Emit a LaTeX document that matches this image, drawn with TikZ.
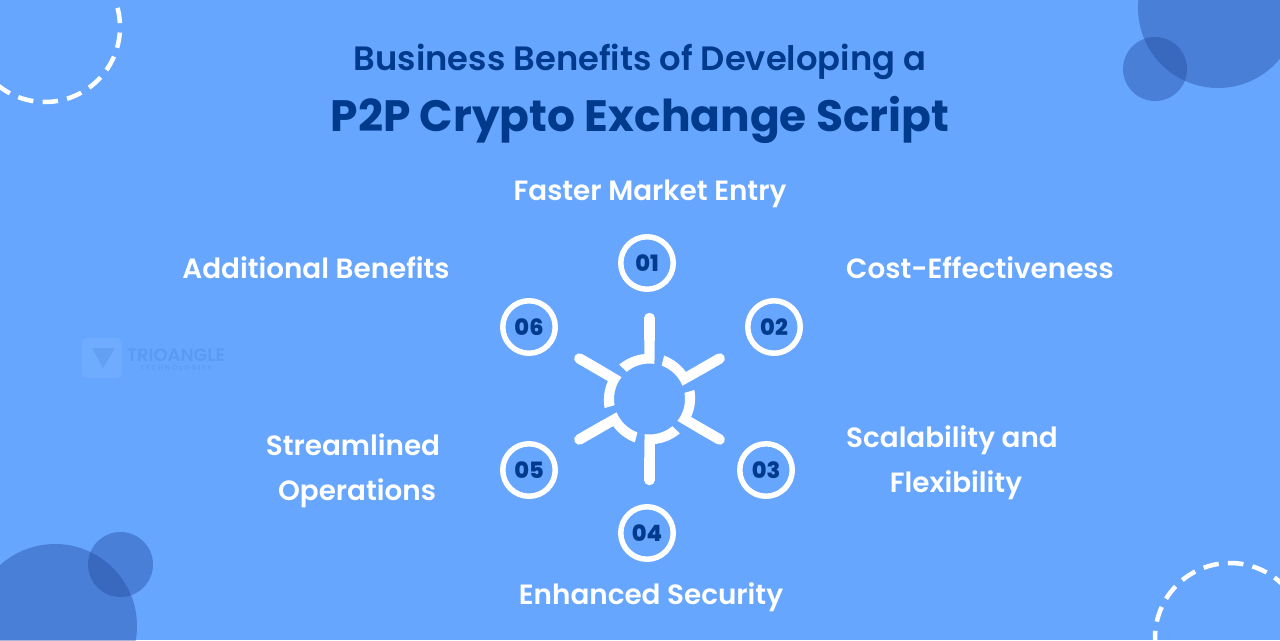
\documentclass[tikz,border=0pt]{standalone}
\usepackage{fontspec}
\usetikzlibrary{positioning}
\setmainfont{Poppins}[UprightFont=* SemiBold,BoldFont=* Bold]
\newfontfamily\numfont{Poppins}[UprightFont=* ExtraBold]
\definecolor{skyback}{HTML}{66A6FF}
\definecolor{navytext}{HTML}{003A8C}
\definecolor{bubble}{HTML}{20469D}
\tikzset{
  titletext/.style={text=navytext,inner sep=0pt,anchor=base},
  benefit/.style={text=white,inner sep=0pt,anchor=base,font=\fontsize{7.92}{9}\selectfont},
  numdot/.style={circle,draw=white,line width=0.055cm,minimum size=0.525cm,inner sep=0pt,text=navytext,font=\numfont\fontsize{6.4}{7}\selectfont},
  ringdash/.style={draw=white,line width=0.045cm,dash pattern=on 0.155cm off 0.093cm},
}
\begin{document}
\begin{tikzpicture}
    \useasboundingbox (0, 0) rectangle (12.8, 6.4);
    \fill [skyback] (0, 0) rectangle (12.8, 6.4);

    % corner shapes
    \begin{scope}
      \clip (0, 0) rectangle (12.8, 6.4);
      \fill [bubble, opacity=0.4] (12.18, 6.32) circle (0.8);
      \fill [bubble, opacity=0.4] (11.55, 5.71) circle (0.32);
      \fill [bubble, opacity=0.4] (0.55, 0.14) circle (0.82);
      \fill [bubble, opacity=0.4] (1.205, 0.755) circle (0.325);
      \draw [ringdash, dash phase=0.21cm] (0.45, 6.13) circle (0.75);
      \draw [ringdash, dash phase=0.196cm] (12.3, 0.02) circle (0.75);
    \end{scope}

    % watermark
    \fill [white, opacity=0.06, rounded corners=0.06cm] (0.82, 2.62) rectangle (1.22, 3.02);
    \fill [navytext, opacity=0.1] (0.92, 2.92) -- (1.15, 2.92) -- (1.03, 2.72) -- cycle;
    \node [text=navytext, text opacity=0.1, inner sep=0pt] (markname) at (1.76, 2.85) {\fontsize{5.1}{6}\selectfont TRIOANGLE};
    \node [text=navytext, text opacity=0.09, inner sep=0pt, below=0.03 of markname] (marksub) {\fontsize{2}{2}\selectfont T E C H N O L O G I E S};

    % title
    \node [titletext] (headone) at (6.4, 5.7) {\fontsize{9.6}{11}\selectfont Business Benefits of Developing a};
    \node [titletext] (headtwo) at (6.4, 5.09) {\fontsize{12.5}{14}\selectfont\bfseries P2P Crypto Exchange Script};

    % hub
    \foreach \turn in {0, 60, ..., 300} {
      \begin{scope}[shift={(6.495, 2.41)}, rotate=\turn]
        \draw [white, line width=0.105cm, line cap=round] (0, 0.81) -- (0, 0.6);
        \fill [white] (-0.0525, 0.6) -- (-0.0525, 0.45) arc (96:130:0.465) -- (130:0.355) arc (130:82:0.355) -- (0.0525, 0.6) -- cycle;
      \end{scope}
    }

    % numbered dots
    \node [numdot] (dotone) at (6.47, 3.77) {01};
    \node [numdot] (dottwo) at (7.74, 3.13) {02};
    \node [numdot] (dotthree) at (7.66, 1.70) {03};
    \node [numdot] (dotfour) at (6.47, 1.07) {04};
    \node [numdot] (dotfive) at (5.29, 1.70) {05};
    \node [numdot] (dotsix) at (5.29, 3.13) {06};

    % labels
    \node [benefit] (faster) at (6.5, 4.4) {Faster Market Entry};
    \node [benefit] (costeff) at (9.8, 3.62) {Cost-Effectiveness};
    \node [benefit] (scaleone) at (9.52, 1.93) {Scalability and};
    \node [benefit] (scaletwo) at (9.56, 1.48) {Flexibility};
    \node [benefit] (enhanced) at (6.51, 0.36) {Enhanced Security};
    \node [benefit] (streamone) at (3.53, 1.85) {Streamlined};
    \node [benefit] (streamtwo) at (3.57, 1.4) {Operations};
    \node [benefit] (additional) at (3.16, 3.62) {Additional Benefits};
\end{tikzpicture}
\end{document}
